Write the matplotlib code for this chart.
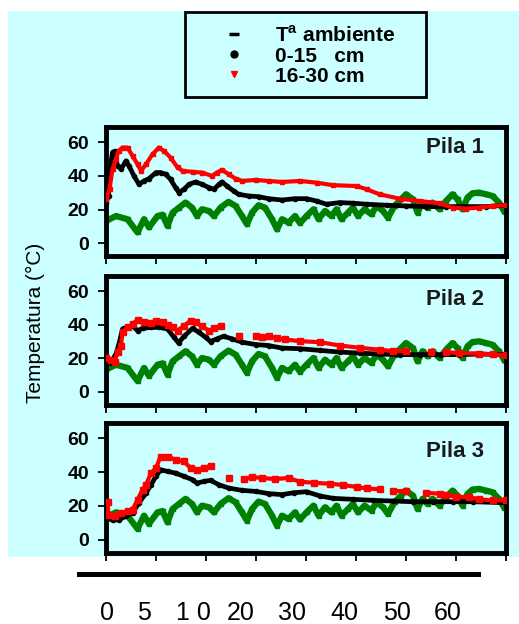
import numpy as np
import matplotlib
matplotlib.use('Agg')
import matplotlib.pyplot as plt
from matplotlib.lines import Line2D
from matplotlib.patches import Rectangle

plt.rcParams['font.family'] = 'Liberation Sans'
plt.rcParams['mathtext.fontset'] = 'custom'
plt.rcParams['mathtext.rm'] = 'Liberation Sans'
plt.rcParams['mathtext.bf'] = 'Liberation Sans:bold'

BG = '#ccffff'
nan = np.nan

# ambient temperature, shared by the three piles
amb_x = [0, 2, 4.3, 6.3, 7.6, 8.6, 10.3, 11.3, 12.3, 13.3, 14.6, 15.9, 17.2, 18.2, 19.2,
         20.6, 21.6, 22.9, 24.5, 25.9, 27.2, 28.2, 29.2, 30.5, 31.8, 33.2, 34.2, 35.2,
         36.5, 37.8, 38.8, 40.1, 41.5, 42.5, 43.8, 45.1, 46.1, 47.1, 48.4, 49.4, 50.4,
         51.7, 53.1, 54.1, 55.4, 56.4, 57.7, 59, 60, 61.4, 62.3, 63.3, 64.3, 65.3, 66.7,
         68, 69.3, 70.3, 71.3, 72.3, 73.3, 74.6, 76, 77.3, 78.6, 79.6]
amb_y = [13.3, 16.2, 14.3, 6.5, 14.3, 9.5, 16.2, 17, 10.3, 18.2, 21.2, 24.2, 21.2, 16.2, 20.2,
         19.2, 16.2, 21.2, 24.6, 22.2, 16.2, 11.3, 18.2, 22.6, 21.2, 14.3, 8.3, 14.3,
         12.3, 16.2, 12.0, 16.2, 20.2, 14.3, 19.2, 16.2, 20.2, 14.3, 18.2, 21.2, 16.2,
         20.2, 17.2, 22.2, 19.2, 15.2, 22.2, 26.1, 29.1, 26.1, 18.2, 24.2, 21.2, 24.2, 20.2,
         25.1, 29.1, 26.1, 20.2, 27.2, 29.7, 30.1, 29.1, 28.1, 24.2, 19.2]

# Pila 1
p1_top_x = [0, 0.5, 1, 1.3, 1.7, 2.3, 3, 4, 4.6, 5.6, 6.6, 7.6, 8.6, 10, 10.9, 11.9, 12.9,
            13.9, 14.6, 15.6, 16.6, 17.9, 19.2, 20.6, 21.6, 22.6, 23.2, 24.2, 25.5, 26.5,
            28.5, 30.5, 32.5, 35.2, 37.8, 40.1, 42.1, 44.1, 46.8, 49.4, 52.1, 56.1, 60, 64,
            68, 72, 76, 80]
p1_top_y = [24.2, 28.1, 47.9, 53.9, 54.5, 45.9, 44, 48.9, 45.9, 40, 35, 37, 38.4, 42, 42, 41, 38,
            33.1, 30.1, 32.1, 35, 36.4, 35, 33.1, 32.1, 35, 36.4, 34, 31.1, 29.1,
            28.1, 27.7, 26.5, 25.7, 26.5, 26.5, 25.1, 23.2, 24.2, 23.8, 23.2, 22.6, 22.2, 21.8,
            21.8, 21.8, 21.8, 22.6]
p1_bot_x = [0, 0.7, 1.3, 2, 2.5, 3.3, 4.3, 5.3, 6.3, 7, 8, 9.3, 10.6, 11.6, 12.9, 14.3, 15.3,
            17.3, 19.2, 21.2, 22.2, 23.2, 24.5, 25.9, 27.2, 29.9, 32.5, 35.2, 38.8, 42.1, 45.4,
            50.1, 52.1, 54.7, 58.7, 62.7, 66.7, 69.3, 72, 74.6, 77.3, 80]
p1_bot_y = [26.1, 32.1, 44, 49.9, 54.8, 56.8, 56.8, 51.9, 46.9, 43, 46.9, 52.9, 56.8, 54.8, 50.9,
            45, 43, 42.4, 42, 40, 42, 43.6, 41, 38.4, 37, 37.6, 37, 36.4, 37, 36, 34.5,
            34, 32.1, 29.1, 26.5, 25.1, 23.8, 21.2, 20.6, 21.2, 22.2, 22.6]

# Pila 2
p2_top_x = [0, 1, 2, 2.6, 3.3, 4.3, 5.3, 6.3, 7.3, 9, 10.6, 12.3, 13.6, 14.5, 15.6, 17.3, 18.6,
            19.9, 20.9, 22.2, 23.5, 25.2, 27.2, 29.9, 32.5, 35.2, 38.8, 42.8, 46.8, 50.7, 54.7,
            58.7, 62.7, 66.7, 70.6, 74.6, 80]
p2_top_y = [19.8, 17.5, 22.7, 28.6, 37.5, 38.8, 39.4, 36.5, 37.8, 38.4, 38.4, 37.5, 32.5, 29.2,
            33.1, 37.8, 35.5, 32.5, 30, 31.6, 33.1, 31.6, 29.6, 28.2, 27.6, 26.1, 25.7, 24.7,
            23.7, 23.1, 22.5, 22.2, 22.2, 22.2, 22.2, 22.5, 22.2]
p2_bot_x = [0, 1, 1.7, 2.3, 3, 3.3, 4.3, 5.3, 6.3, 7.6, 9, 10, 11.3, 12.3, 13.3, 14.3, 15.6,
            16.9, 17.9, 19.2, 20.6, 21.6, 22.9, 24.5, 26.5, 28, 29.9, 31.2, 32.5, 34.2, 35.8,
            38.8, 42.8, 46.8, 50.7, 54.7, 57.4, 60, 62.5, 65, 66.5, 68, 70.6, 74.6, 77.3, 80]
p2_bot_y = [20.2, 19.2, 17.8, 23.7, 27.6, 35.5, 38.4, 40.4, 42.9, 41.4, 41, 42.4, 41.4, 39.8,
            38.4, 36.5, 39.4, 42.4, 41.4, 39, 36.5, 37.8, 39.4, nan, 33.5, nan, 33.5, 32.5,
            33.1, 32, 31.2, 30.2, 29.6, 27.6, 26.3, 25.1, 24.3, 24.3, nan, 23.7, nan, 23.7,
            23.1, 22.8, 22.4, 21.8]

# Pila 3
p3_top_x = [0, 1.3, 2.6, 4, 5.3, 6.6, 8, 9, 10, 10.9, 12.3, 13.9, 15.6, 17.3, 18.2, 19.6, 20.9,
            22.6, 24.5, 27.2, 29.9, 32.5, 35.2, 37.5, 40.1, 42.8, 45.4, 49.4, 53.4, 57.4, 61.4,
            65.4, 69.3, 73.3, 80]
p3_top_y = [12.9, 11.6, 11.9, 13.9, 15.9, 21.8, 27.6, 32.5, 37.5, 41.4, 40.4, 39.4, 37.5, 35.5,
            33.5, 34.5, 35.1, 32.5, 30.6, 29.2, 28.6, 27.3, 26.7, 27.8, 28.4, 25.9, 24.5, 23.9,
            23.3, 22.9, 22.5, 22.5, 22.5, 22.5, 21.9]
p3_bot_x = [0.3, 0.5, 1.7, 3, 4.3, 5.3, 6.3, 7.3, 8, 9, 10, 10.9, 12.3, 13.9, 15.6, 16.9, 18.2,
            19.6, 20.9, 22.5, 24.5, 26, 27.5, 29.2, 31.2, 33.8, 36.5, 38.8, 41.5, 44.8, 47.4,
            50.1, 52.1, 54.7, 56, 57.4, 60, 62, 64, 66.7, 68, 70, 72.6, 74.6, 77.3, 80]
p3_bot_y = [22.2, 14.9, 14.3, 15.9, 16.9, 17.8, 23.7, 29.6, 32.5, 39.4, 42.4, 49.2, 49.2, 47.3,
            46.3, 42.4, 41.4, 42.4, 43.7, nan, 36.5, nan, 35.9, 37.1, 36.5, 35.9, 36.5, 34.3,
            33.7, 33.1, 32.4, 31.2, 30.4, 29.8, nan, 28.8, 28.8, nan, 27.8, 27.2, 26.7, 25.3,
            25.3, 23.9, 23.3, 23.3]

titles = ['Pila 1', 'Pila 2', 'Pila 3']
bottom_labels = ['0', '5', '1 0', '20', '30', '40', '50', '60']

piles = [
    (p1_top_x, p1_top_y, p1_bot_x, p1_bot_y),
    (p2_top_x, p2_top_y, p2_bot_x, p2_bot_y),
    (p3_top_x, p3_top_y, p3_bot_x, p3_bot_y),
]

W, H = 519, 624
fig = plt.figure(figsize=(W / 100, H / 100), dpi=100)
# cyan backdrop behind everything except the bottom strip
fig.patches.append(Rectangle((8 / W, 1 - 557 / H), 1 - 8 / W, 546 / H,
                             transform=fig.transFigure, facecolor=BG,
                             edgecolor='none', zorder=-5))

# panel boxes in pixels: (top, bottom)
boxes = [(127, 256), (276, 404.5), (423, 552.5)]
title_y = [0.80, 0.775, 0.74]
red_ms = [2.5, 4.5, 4.5]
left, right = 106, 506

for i, (tx, ty, bx, by) in enumerate(piles):
    top, bot = boxes[i]
    ax = fig.add_axes([left / W, 1 - bot / H, (right - left) / W, (bot - top) / H])
    ax.set_facecolor(BG)
    ax.plot(amb_x, amb_y, color='green', lw=4.5, marker='s', ms=3.5, zorder=2)
    ax.plot(tx, ty, color='black', lw=3.4, marker='o', ms=3, zorder=3)
    ax.plot(bx, by, color='red', lw=3, marker='s', ms=red_ms[i], zorder=4)
    ax.set_xlim(0, 80)
    ax.set_ylim(-7.5, 69)
    ax.set_xticks(np.arange(0, 81, 10))
    ax.set_xticklabels([])
    ax.set_yticks([0, 20, 40, 60])
    ax.set_yticklabels(['0', '20', '40', '60'], fontsize=14, fontweight='bold')
    ax.tick_params(direction='out', length=6, width=1.3, pad=6)
    for sp in ax.spines.values():
        sp.set_linewidth(3.5)
    ax.text(0.945, title_y[i], titles[i], transform=ax.transAxes, ha='right',
            va='baseline', fontsize=16, fontweight='bold', color='#1a1a1a')

fig.text(35 / W, 1 - 323 / H, 'Temperatura (°C)', rotation=90, ha='center',
         va='center', fontsize=15)

# legend box
fig.patches.append(Rectangle((185 / W, 1 - 97 / H), 241 / W, 85 / H,
                             transform=fig.transFigure, facecolor=BG,
                             edgecolor='black', lw=2, zorder=1))
handles = [
    Line2D([], [], marker='_', color='black', ls='none', ms=7, mew=2.5),
    Line2D([], [], marker='o', color='black', ls='none', ms=5),
    Line2D([], [], marker='v', color='red', ls='none', ms=5),
]
labels = ['T$^{\\mathbf{a}}$ ambiente', '0-15   cm', '16-30 cm']
leg = fig.legend(handles, labels, loc='upper left', bbox_to_anchor=(196 / W, 1 - 25 / H),
                 frameon=False, prop={'weight': 'bold', 'size': 15}, borderpad=0,
                 handlelength=3.65, handletextpad=0.15, labelspacing=0.05,
                 borderaxespad=0)
leg.set_zorder(2)

# axis bar and day labels under the panels
axb = fig.add_axes([79 / W, 1 - 598 / H, 399 / W, (598 - 574) / H])
axb.set_facecolor('none')
axb.set_xlim(0, 1)
axb.set_ylim(0, 1)
for name, sp in axb.spines.items():
    sp.set_visible(name == 'top')
axb.spines['top'].set_linewidth(3.6)
axb.set_yticks([])
axb.set_xticks([0.070, 0.163, 0.288, 0.406, 0.534, 0.664, 0.797, 0.925])
axb.set_xticklabels(bottom_labels, fontsize=18)
axb.tick_params(axis='x', length=0, pad=2)

fig.savefig('out.png', dpi=100, facecolor='white')
